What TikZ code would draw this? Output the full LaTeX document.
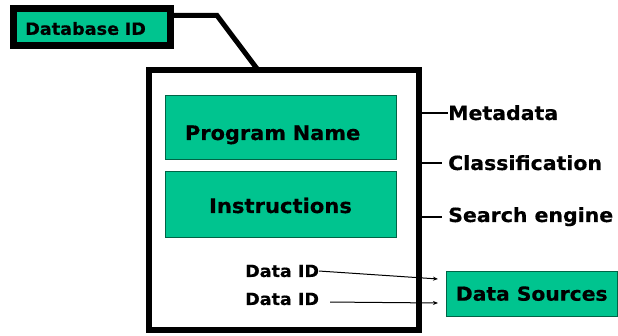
\documentclass[tikz,border=0pt]{standalone}
\usepackage{fontspec}
\setmainfont{DejaVu Sans}[FakeStretch=1.05, BoldFeatures={FakeBold=0.5}]
\usetikzlibrary{arrows.meta}
\definecolor{boxgreen}{RGB}{0,196,143}
\definecolor{edgegreen}{RGB}{0,100,70}
\begin{document}
\begin{tikzpicture}[x=1pt,y=-1pt,
  greenbox/.style={fill=boxgreen, draw=edgegreen, line width=0.8pt, inner ysep=0pt, outer sep=0pt, text depth=0pt},
  sidelabel/.style={anchor=base west, inner sep=0pt, font=\bfseries\fontsize{19.5}{23}\selectfont},
  idlabel/.style={anchor=base west, inner sep=0pt, font=\bfseries\fontsize{16.7}{20}\selectfont},
  tick/.style={line width=1.8pt},
  link/.style={line width=1pt, -{Stealth[length=5pt,width=4pt]}},
]
\useasboundingbox (0,0) rectangle (618,336);

% record frame
\node[draw, line width=5.5pt, minimum width=270, minimum height=260, inner sep=0pt, outer sep=0pt] (main) at (284,200) {};

% identifier tag and its link to the frame
\node[draw=black, fill=boxgreen, line width=7pt, minimum width=157, minimum height=37,
      text width=133pt, align=left, inner xsep=12pt, inner ysep=0pt, outer sep=0pt,
      text height=16pt, text depth=0pt, font=\bfseries\fontsize{16.8}{20}\selectfont] (dbid) at (91.7,26.8) {Database ID};
\coordinate (bend) at (217,15.5);
\coordinate (attach) at (258,70);
\draw[line width=5pt] (bend -| dbid.east) -- (bend) -- (attach);

% inner fields
\node[greenbox, minimum width=231, minimum height=64, text width=191pt, align=left, inner xsep=20pt,
      text height=26pt, font=\bfseries\fontsize{19.9}{24}\selectfont] (prog) at (280.5,127) {Program Name};
\node[greenbox, minimum width=231, minimum height=66, inner xsep=0pt,
      text height=18pt, font=\bfseries\fontsize{20.1}{24}\selectfont] (instr) at (280.5,204) {Instructions};

% side annotations
\node[sidelabel] (meta) at (448,120) {Metadata};
\node[sidelabel] (cls) at (448,170) {Classification};
\node[sidelabel] (search) at (448,222) {Search engine};
\draw[tick] (main.east |- meta.west) -- (meta.west);
\draw[tick] (main.east |- cls.west) -- ([xshift=-6pt]cls.west);
\draw[tick] (main.east |- search.west) -- ([xshift=-6pt]search.west);

% data references
\node[idlabel] (id1) at (245,277) {Data ID};
\node[idlabel] (id2) at (245,305) {Data ID};
\node[greenbox, minimum width=171.5, minimum height=45, inner xsep=0pt,
      text height=14.4pt, font=\bfseries\fontsize{19.3}{23}\selectfont] (src) at (531.75,293.5) {Data Sources};
\coordinate (in1) at (438,279);
\coordinate (in2) at (438,303);
\draw[link] (id1.east) -- (in1);
\draw[link] ([xshift=11pt,yshift=-3pt]id2.east) -- (in2);
\end{tikzpicture}
\end{document}
